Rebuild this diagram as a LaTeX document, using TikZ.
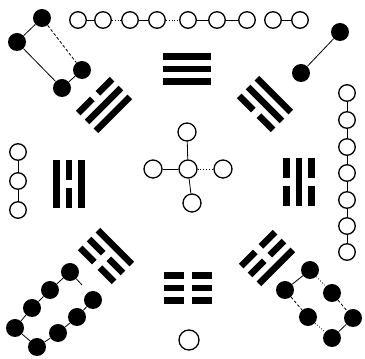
\documentclass[tikz,border=0pt]{standalone}
\usepackage{tikz}

% one trigram: centre x, centre y, rotation, lines from inner to outer (1 solid, 0 broken)
\newcommand{\trigram}[6]{%
  \begin{scope}[shift={(#1,#2)}, rotate=#3]
    \foreach \k [count=\i from 0] in {#4,#5,#6}{
      \pgfmathsetmacro{\yy}{(\i-1)*12.5}
      \ifnum\k=1
        \draw[bar] (-24,\yy) -- (24,\yy);
      \else
        \draw[bar] (-24,\yy) -- (-4,\yy);
        \draw[bar] (4,\yy) -- (24,\yy);
      \fi
    }
  \end{scope}}

\begin{document}
\begin{tikzpicture}[x=1pt, y=1pt,
  open/.style={draw, circle, line width=1.3pt, minimum size=16.5pt, inner sep=0pt, fill=white},
  bigopen/.style={open, minimum size=18pt},
  dot/.style={fill, circle, minimum size=18pt, inner sep=0pt},
  link/.style={line width=0.8pt},
  bar/.style={line width=6.5pt}]
  \useasboundingbox (0,0) rectangle (365,359);

  % trigrams, inner line first
  \trigram{187}{290}{0}{1}{1}{1}     % top
  \trigram{188}{71}{180}{0}{0}{0}    % bottom
  \trigram{69}{175}{90}{1}{0}{1}     % left
  \trigram{299}{177}{-90}{0}{1}{0}   % right
  \trigram{104}{254}{45}{1}{1}{0}    % top left
  \trigram{265}{255}{-45}{0}{1}{1}   % top right
  \trigram{106}{103}{135}{1}{0}{0}   % bottom left
  \trigram{267}{101}{-135}{0}{0}{1}  % bottom right

  % nine, top row
  \node[open] (t1) at (78,339) {};
  \node[open] (t2) at (103,339) {};
  \node[open] (t3) at (130,339) {};
  \node[open] (t4) at (157,339) {};
  \node[open] (t5) at (188,339) {};
  \node[open] (t6) at (217,339) {};
  \node[open] (t7) at (247,339) {};
  \node[open] (t8) at (273,339) {};
  \node[open] (t9) at (300,339) {};

  % four, top left
  \node[dot] (tl1) at (42,341) {};
  \node[dot] (tl2) at (17,317) {};
  \node[dot] (tl3) at (82,289) {};
  \node[dot] (tl4) at (62,271) {};

  % two, top right
  \node[dot] (tr1) at (340,327) {};
  \node[dot] (tr2) at (301,286) {};

  % seven, right
  \node[open] (r1) at (347,266) {};
  \node[open] (r2) at (347,239) {};
  \node[open] (r3) at (347,212) {};
  \node[open] (r4) at (347,186) {};
  \node[open] (r5) at (347,159) {};
  \node[open] (r6) at (347,133) {};
  \node[open] (r7) at (347,107) {};

  % three, left
  \node[open] (l1) at (18,207) {};
  \node[open] (l2) at (18,178) {};
  \node[open] (l3) at (18,149) {};

  % five, centre
  \node[bigopen] (c) at (188,190) {};
  \node[bigopen] (cn) at (187,227) {};
  \node[bigopen] (cw) at (153,190) {};
  \node[bigopen] (ce) at (223,190) {};
  \node[bigopen] (cs) at (192,156) {};

  % one, bottom
  \node[open, minimum size=20pt] (b) at (189,19) {};

  % eight, bottom left
  \node[dot] (bl1) at (70,87) {};
  \node[dot] (bl2) at (50,69) {};
  \node[dot] (bl3) at (32,51) {};
  \node[dot] (bl4) at (15,31) {};
  \node[dot] (bl5) at (37,12) {};
  \node[dot] (bl6) at (58,26) {};
  \node[dot] (bl7) at (77,42) {};
  \node[dot] (bl8) at (93,59) {};
  \coordinate (blend) at (82,74);

  % six, bottom right
  \node[dot] (br1) at (310,89) {};
  \node[dot] (br2) at (285,69) {};
  \node[dot] (br3) at (332,66) {};
  \node[dot] (br4) at (308,42) {};
  \node[dot] (br5) at (353,41) {};
  \node[dot] (br6) at (332,21) {};

  % links
  \draw[link] (t1) -- (t2);
  \draw[link, dotted] (t2) -- (t3);
  \draw[link] (t3) -- (t4);
  \draw[link, dotted] (t4) -- (t5);
  \draw[link] (t5) -- (t6);
  \draw[link] (t6) -- (t7);
  \draw[link] (t8) -- (t9);

  \draw[link] (tl1) -- (tl2);
  \draw[link] (tl2) -- (tl4);
  \draw[link] (tl4) -- (tl3);
  \draw[link, densely dashed] (tl1) -- (tl3);

  \draw[link] (tr1) -- (tr2);

  \foreach \a/\b in {r1/r2, r2/r3, r3/r4, r4/r5, r5/r6, r6/r7, l1/l2, l2/l3}
    \draw[link] (\a) -- (\b);

  \draw[link] (c) -- (cn);
  \draw[link] (c) -- (cw);
  \draw[link, dotted] (c) -- (ce);
  \draw[link] (c) -- (cs);

  \foreach \a/\b in {bl1/bl2, bl2/bl3, bl3/bl4, bl4/bl5, bl5/bl6, bl6/bl7, bl7/bl8}
    \draw[link] (\a) -- (\b);
  \draw[link] (bl1) -- (blend);

  \draw[link] (br1) -- (br2);
  \draw[link, dotted] (br1) -- (br3);
  \draw[link, densely dashed] (br2) -- (br4);
  \draw[link, densely dashed] (br3) -- (br5);
  \draw[link, dotted] (br4) -- (br6);
  \draw[link] (br5) -- (br6);
\end{tikzpicture}
\end{document}
